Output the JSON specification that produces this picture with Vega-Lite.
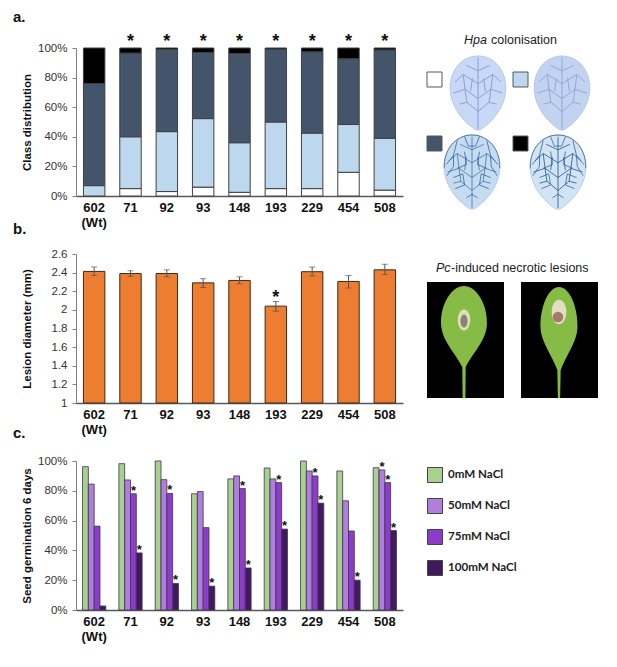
{"$schema":"https://vega.github.io/schema/vega-lite/v6.json","background":"white","padding":{"left":13,"top":10,"right":0,"bottom":20},"bounds":"flush","columns":2,"spacing":{"row":58,"column":7},"resolve":{"scale":{"color":"independent","fill":"independent","stroke":"independent","size":"independent"},"legend":{"color":"independent"}},"config":{"view":{"stroke":null},"font":"Liberation Sans","title":{"font":"Liberation Sans","fontWeight":"bold","fontSize":15,"color":"#111","anchor":"start","frame":"group"},"axisX":{"labelFont":"Liberation Sans","labelFontWeight":"bold","labelFontSize":13,"labelColor":"#111","labelAngle":0,"labelPadding":5,"labelLineHeight":15,"ticks":false,"domainColor":"#595959","domainWidth":1.5,"title":null,"grid":false,"labelExpr":"datum.value=='602'?['602','(Wt)']:datum.value"},"axisY":{"labelFont":"Liberation Sans","labelFontSize":11.5,"labelColor":"#333","titleFont":"Liberation Sans","titleFontWeight":"bold","titleFontSize":11.5,"titleColor":"#111","grid":false,"domainColor":"#808080","tickColor":"#808080","tickSize":4,"labelPadding":5}},"datasets":{"classes":[{"line":"602","cls":"c1","rank":1,"v":0},{"line":"602","cls":"c2","rank":2,"v":0.07},{"line":"602","cls":"c3","rank":3,"v":0.69},{"line":"602","cls":"c4","rank":4,"v":0.24},{"line":"71","cls":"c1","rank":1,"v":0.05},{"line":"71","cls":"c2","rank":2,"v":0.35},{"line":"71","cls":"c3","rank":3,"v":0.566},{"line":"71","cls":"c4","rank":4,"v":0.034},{"line":"92","cls":"c1","rank":1,"v":0.03},{"line":"92","cls":"c2","rank":2,"v":0.405},{"line":"92","cls":"c3","rank":3,"v":0.555},{"line":"92","cls":"c4","rank":4,"v":0.01},{"line":"93","cls":"c1","rank":1,"v":0.06},{"line":"93","cls":"c2","rank":2,"v":0.463},{"line":"93","cls":"c3","rank":3,"v":0.447},{"line":"93","cls":"c4","rank":4,"v":0.03},{"line":"148","cls":"c1","rank":1,"v":0.025},{"line":"148","cls":"c2","rank":2,"v":0.335},{"line":"148","cls":"c3","rank":3,"v":0.603},{"line":"148","cls":"c4","rank":4,"v":0.037},{"line":"193","cls":"c1","rank":1,"v":0.05},{"line":"193","cls":"c2","rank":2,"v":0.45},{"line":"193","cls":"c3","rank":3,"v":0.493},{"line":"193","cls":"c4","rank":4,"v":0.007},{"line":"229","cls":"c1","rank":1,"v":0.05},{"line":"229","cls":"c2","rank":2,"v":0.375},{"line":"229","cls":"c3","rank":3,"v":0.55},{"line":"229","cls":"c4","rank":4,"v":0.025},{"line":"454","cls":"c1","rank":1,"v":0.16},{"line":"454","cls":"c2","rank":2,"v":0.323},{"line":"454","cls":"c3","rank":3,"v":0.445},{"line":"454","cls":"c4","rank":4,"v":0.072},{"line":"508","cls":"c1","rank":1,"v":0.04},{"line":"508","cls":"c2","rank":2,"v":0.35},{"line":"508","cls":"c3","rank":3,"v":0.597},{"line":"508","cls":"c4","rank":4,"v":0.013}],"starsA":[{"line":"71"},{"line":"92"},{"line":"93"},{"line":"148"},{"line":"193"},{"line":"229"},{"line":"454"},{"line":"508"}],"lesion":[{"line":"602","d":2.413,"low":2.37,"high":2.46},{"line":"71","d":2.39,"low":2.36,"high":2.42},{"line":"92","d":2.39,"low":2.355,"high":2.43},{"line":"93","d":2.29,"low":2.24,"high":2.335},{"line":"148","d":2.316,"low":2.28,"high":2.355},{"line":"193","d":2.04,"low":1.985,"high":2.09,"star":2.165},{"line":"229","d":2.41,"low":2.365,"high":2.46},{"line":"454","d":2.305,"low":2.235,"high":2.37},{"line":"508","d":2.43,"low":2.38,"high":2.49}],"germ":[{"line":"602","salt":"0mM NaCl","v":0.962},{"line":"602","salt":"50mM NaCl","v":0.845},{"line":"602","salt":"75mM NaCl","v":0.563},{"line":"602","salt":"100mM NaCl","v":0.027},{"line":"71","salt":"0mM NaCl","v":0.982},{"line":"71","salt":"50mM NaCl","v":0.873},{"line":"71","salt":"75mM NaCl","v":0.78,"star":1},{"line":"71","salt":"100mM NaCl","v":0.383,"star":1},{"line":"92","salt":"0mM NaCl","v":1},{"line":"92","salt":"50mM NaCl","v":0.875},{"line":"92","salt":"75mM NaCl","v":0.782,"star":1},{"line":"92","salt":"100mM NaCl","v":0.178,"star":1},{"line":"93","salt":"0mM NaCl","v":0.78},{"line":"93","salt":"50mM NaCl","v":0.795},{"line":"93","salt":"75mM NaCl","v":0.553},{"line":"93","salt":"100mM NaCl","v":0.16,"star":1},{"line":"148","salt":"0mM NaCl","v":0.88},{"line":"148","salt":"50mM NaCl","v":0.9},{"line":"148","salt":"75mM NaCl","v":0.815,"star":1},{"line":"148","salt":"100mM NaCl","v":0.282,"star":1},{"line":"193","salt":"0mM NaCl","v":0.953},{"line":"193","salt":"50mM NaCl","v":0.88},{"line":"193","salt":"75mM NaCl","v":0.855,"star":1},{"line":"193","salt":"100mM NaCl","v":0.543,"star":1},{"line":"229","salt":"0mM NaCl","v":1},{"line":"229","salt":"50mM NaCl","v":0.933},{"line":"229","salt":"75mM NaCl","v":0.9,"star":1},{"line":"229","salt":"100mM NaCl","v":0.717,"star":1},{"line":"454","salt":"0mM NaCl","v":0.933},{"line":"454","salt":"50mM NaCl","v":0.733},{"line":"454","salt":"75mM NaCl","v":0.53},{"line":"454","salt":"100mM NaCl","v":0.2,"star":1},{"line":"508","salt":"0mM NaCl","v":0.955},{"line":"508","salt":"50mM NaCl","v":0.94,"star":1},{"line":"508","salt":"75mM NaCl","v":0.855,"star":1},{"line":"508","salt":"100mM NaCl","v":0.533,"star":1}]},"concat":[{"width":327,"height":148,"title":{"text":"a.","dx":-63,"offset":8},"layer":[{"data":{"name":"classes"},"mark":{"type":"bar","stroke":"#404040","strokeWidth":1},"encoding":{"x":{"field":"line","type":"nominal","sort":null,"scale":{"domain":["602","71","92","93","148","193","229","454","508"],"paddingInner":0.41,"paddingOuter":0.205}},"y":{"field":"v","type":"quantitative","stack":"zero","title":"Class distribution","scale":{"domain":[0,1],"nice":false},"axis":{"format":".0%","tickCount":6,"labelOverlap":false,"labelBound":false,"titlePadding":5}},"order":{"field":"rank"},"color":{"field":"cls","type":"nominal","legend":null,"scale":{"domain":["c1","c2","c3","c4"],"range":["#ffffff","#bdd7ee","#44546a","#000000"]}}}},{"data":{"name":"starsA"},"mark":{"type":"text","text":"*","font":"Liberation Sans","fontWeight":"bold","fontSize":18,"baseline":"middle","color":"#111","dy":3},"encoding":{"x":{"field":"line","type":"nominal"},"y":{"datum":1.06,"type":"quantitative","axis":{"format":".0%","tickCount":6,"labelOverlap":false,"labelBound":false,"titlePadding":5}}}}]},{"width":207,"height":148,"layer":[{"data":{"values":[{"x":464,"y":40,"t":"Hpa"}]},"mark":{"type":"text","align":"left","baseline":"middle","fontSize":12.5,"fontStyle":"italic","color":"#222"},"encoding":{"x":{"field":"x","type":"quantitative","scale":{"domain":[410,617],"nice":false,"zero":false},"axis":null},"y":{"field":"y","type":"quantitative","scale":{"domain":[196,48],"nice":false,"zero":false},"axis":null},"text":{"field":"t"}}},{"data":{"values":[{"x":491,"y":40,"t":"colonisation"}]},"mark":{"type":"text","align":"left","baseline":"middle","fontSize":12.5,"color":"#222"},"encoding":{"x":{"field":"x","type":"quantitative"},"y":{"field":"y","type":"quantitative"},"text":{"field":"t"}}},{"data":{"values":[{"x":478,"y":93,"f":"l1"},{"x":562,"y":93,"f":"l2"},{"x":472,"y":172,"f":"l3"},{"x":558,"y":172,"f":"l4"}]},"mark":{"type":"point","filled":true,"opacity":1,"size":5476,"stroke":"#a9c0ea","strokeWidth":0.8,"shape":"M0,-1 C0.45,-1 0.77,-0.6 0.75,-0.1 C0.73,0.45 0.3,0.85 0.05,1 L-0.05,1 C-0.3,0.85 -0.73,0.45 -0.75,-0.1 C-0.77,-0.6 -0.45,-1 0,-1 Z"},"encoding":{"x":{"field":"x","type":"quantitative"},"y":{"field":"y","type":"quantitative"},"fill":{"field":"f","type":"nominal","legend":null,"scale":{"domain":["l1","l2","l3","l4"],"range":["#c9d8f4","#c3d3ef","#c5dbf0","#d2e4f4"]}}}},{"data":{"values":[{"x":478,"y":93,"f":"l1"},{"x":562,"y":93,"f":"l2"},{"x":472,"y":172,"f":"l3"},{"x":558,"y":172,"f":"l4"}]},"mark":{"type":"point","filled":false,"opacity":0.85,"size":5476,"strokeWidth":0.9,"shape":"M0,-0.95 L0,0.97 M0,-0.6 L-0.32,-0.75 M0,-0.6 L0.32,-0.75 M0,-0.25 L-0.4,-0.5 L-0.62,-0.3 M0,-0.25 L0.4,-0.5 L0.62,-0.3 M0,0.15 L-0.35,-0.1 L-0.66,0 M0,0.15 L0.35,-0.1 L0.66,0 M0,0.5 L-0.3,0.25 L-0.5,0.3 M0,0.5 L0.3,0.25 L0.5,0.3 M-0.4,-0.5 L-0.35,-0.1 L-0.3,0.25 M0.4,-0.5 L0.35,-0.1 L0.3,0.25 M-0.15,-0.4 L-0.2,-0.05 M0.15,-0.4 L0.2,-0.05"},"encoding":{"x":{"field":"x","type":"quantitative"},"y":{"field":"y","type":"quantitative"},"stroke":{"field":"f","type":"nominal","legend":null,"scale":{"domain":["l1","l2","l3","l4"],"range":["#6f93d8","#7f9dd8","#3f6fa8","#174f86"]}}}},{"data":{"values":[{"x":472,"y":172},{"x":558,"y":172}]},"mark":{"type":"point","filled":false,"opacity":0.75,"size":5476,"strokeWidth":1,"color":"#2a5f98","shape":"M-0.7,-0.2 L-0.5,-0.45 L-0.5,-0.15 L-0.68,0.1 M0.7,-0.2 L0.5,-0.45 L0.52,-0.15 L0.68,0.1 M-0.4,-0.85 L-0.5,-0.45 M0.4,-0.85 L0.5,-0.45 M-0.2,-0.55 L-0.15,-0.2 L-0.4,-0.1 M0.2,-0.55 L0.15,-0.2 L0.4,-0.1 M-0.5,0.15 L-0.25,0.05 L-0.2,0.35 L-0.45,0.45 M0.5,0.15 L0.25,0.05 L0.2,0.35 L0.45,0.45 M-0.2,-0.95 L-0.1,-0.7 L0.1,-0.7 L0.2,-0.95 M-0.15,0.7 L0,0.6 L0.15,0.7 M-0.75,-0.1 C-0.77,-0.6 -0.45,-1 0,-1 C0.45,-1 0.77,-0.6 0.75,-0.1"},"encoding":{"x":{"field":"x","type":"quantitative"},"y":{"field":"y","type":"quantitative"}}},{"data":{"values":[{"x":434.5,"y":79.5,"cls":"c1"},{"x":520.5,"y":79.5,"cls":"c2"},{"x":434.5,"y":143.5,"cls":"c3"},{"x":520.5,"y":143.5,"cls":"c4"}]},"mark":{"type":"point","shape":"square","filled":true,"opacity":1,"size":225,"stroke":"#595959","strokeWidth":1},"encoding":{"x":{"field":"x","type":"quantitative"},"y":{"field":"y","type":"quantitative"},"color":{"field":"cls","type":"nominal","legend":null,"scale":{"domain":["c1","c2","c3","c4"],"range":["#ffffff","#bdd7ee","#44546a","#000000"]}}}}]},{"width":327,"height":149,"title":{"text":"b.","dx":-63,"offset":11},"encoding":{"x":{"field":"line","type":"nominal","sort":null,"scale":{"domain":["602","71","92","93","148","193","229","454","508"],"paddingInner":0.41,"paddingOuter":0.205}}},"layer":[{"data":{"name":"lesion"},"mark":{"type":"bar","color":"#ed7d31","stroke":"#3a2a1f","strokeWidth":1},"encoding":{"y":{"field":"d","type":"quantitative","title":"Lesion diameter (mm)","scale":{"domain":[1,2.6],"nice":false,"zero":false},"axis":{"tickCount":8,"format":".1~f","labelOverlap":false,"labelBound":false,"titlePadding":19}},"y2":{"datum":1}}},{"data":{"name":"lesion"},"mark":{"type":"errorbar","ticks":{"size":6,"color":"#555555"},"rule":{"color":"#555555"}},"encoding":{"y":{"field":"low","type":"quantitative","title":"Lesion diameter (mm)","axis":{"tickCount":8,"format":".1~f","labelOverlap":false,"labelBound":false,"titlePadding":19}},"y2":{"field":"high"}}},{"data":{"name":"lesion"},"transform":[{"filter":"isValid(datum.star)"}],"mark":{"type":"text","text":"*","font":"Liberation Sans","fontWeight":"bold","fontSize":18,"baseline":"middle","color":"#111","dy":3},"encoding":{"y":{"field":"star","type":"quantitative","title":"Lesion diameter (mm)","axis":{"tickCount":8,"format":".1~f","labelOverlap":false,"labelBound":false,"titlePadding":19}}}}]},{"width":207,"height":149,"layer":[{"data":{"values":[{"x":436,"y":268,"t":"Pc"}]},"mark":{"type":"text","align":"left","baseline":"middle","fontSize":12.5,"fontStyle":"italic","color":"#222"},"encoding":{"x":{"field":"x","type":"quantitative","scale":{"domain":[410,617],"nice":false,"zero":false},"axis":null},"y":{"field":"y","type":"quantitative","scale":{"domain":[403,254],"nice":false,"zero":false},"axis":null},"text":{"field":"t"}}},{"data":{"values":[{"x":451,"y":268,"t":"-induced necrotic lesions"}]},"mark":{"type":"text","align":"left","baseline":"middle","fontSize":12.5,"color":"#222"},"encoding":{"x":{"field":"x","type":"quantitative"},"y":{"field":"y","type":"quantitative"},"text":{"field":"t"}}},{"data":{"values":[{"x":427,"x2":504,"y":282,"y2":398},{"x":521,"x2":598,"y":282,"y2":398}]},"mark":{"type":"rect","color":"#000000"},"encoding":{"x":{"field":"x","type":"quantitative"},"x2":{"field":"x2"},"y":{"field":"y","type":"quantitative"},"y2":{"field":"y2"}}},{"data":{"values":[{"x":464,"y":342}]},"mark":{"type":"point","filled":true,"opacity":1,"size":12544,"color":"#86bb45","shape":"M0,-1 C0.22,-1 0.42,-0.68 0.41,-0.32 C0.4,-0.02 0.15,0.2 0.03,0.45 L0.025,1 L-0.025,1 L-0.03,0.45 C-0.15,0.2 -0.4,-0.02 -0.41,-0.32 C-0.42,-0.68 -0.22,-1 0,-1 Z"},"encoding":{"x":{"field":"x","type":"quantitative"},"y":{"field":"y","type":"quantitative"}}},{"data":{"values":[{"x":559,"y":342}]},"mark":{"type":"point","filled":true,"opacity":1,"size":12544,"color":"#86bb45","shape":"M0,-0.98 C0.2,-0.98 0.34,-0.6 0.33,-0.25 C0.32,0 0.12,0.25 0.03,0.5 L0.02,1 L-0.02,1 L-0.03,0.5 C-0.12,0.25 -0.32,0 -0.33,-0.25 C-0.34,-0.6 -0.2,-0.98 0,-0.98 Z"},"encoding":{"x":{"field":"x","type":"quantitative"},"y":{"field":"y","type":"quantitative"}}},{"data":{"values":[{"x":464,"y":320}]},"mark":{"type":"point","filled":true,"opacity":0.95,"color":"#e6e2b8","size":440,"shape":"M0,-1 C0.33,-1 0.6,-0.55 0.6,0 C0.6,0.55 0.33,1 0,1 C-0.33,1 -0.6,0.55 -0.6,0 C-0.6,-0.55 -0.33,-1 0,-1 Z"},"encoding":{"x":{"field":"x","type":"quantitative"},"y":{"field":"y","type":"quantitative"}}},{"data":{"values":[{"x":559,"y":312}]},"mark":{"type":"point","filled":true,"opacity":0.95,"color":"#e6dfc8","size":600,"shape":"M0,-1 C0.33,-1 0.6,-0.55 0.6,0 C0.6,0.55 0.33,1 0,1 C-0.33,1 -0.6,0.55 -0.6,0 C-0.6,-0.55 -0.33,-1 0,-1 Z"},"encoding":{"x":{"field":"x","type":"quantitative"},"y":{"field":"y","type":"quantitative"}}},{"data":{"values":[{"x":464,"y":321}]},"mark":{"type":"point","filled":true,"opacity":1,"color":"#85867a","size":170,"shape":"M0,-1 C0.3,-1 0.55,-0.55 0.55,0 C0.55,0.55 0.3,1 0,1 C-0.3,1 -0.55,0.55 -0.55,0 C-0.55,-0.55 -0.3,-1 0,-1 Z"},"encoding":{"x":{"field":"x","type":"quantitative"},"y":{"field":"y","type":"quantitative"}}},{"data":{"values":[{"x":558,"y":317}]},"mark":{"type":"point","shape":"circle","filled":true,"opacity":1,"color":"#a8796a","size":110},"encoding":{"x":{"field":"x","type":"quantitative"},"y":{"field":"y","type":"quantitative"}}}]},{"width":327,"height":149,"title":{"text":"c.","dx":-63,"offset":14},"data":{"name":"germ"},"encoding":{"x":{"field":"line","type":"nominal","sort":null,"scale":{"domain":["602","71","92","93","148","193","229","454","508"],"paddingInner":0.36,"paddingOuter":0.18}},"xOffset":{"field":"salt","type":"nominal","scale":{"domain":["0mM NaCl","50mM NaCl","75mM NaCl","100mM NaCl"]}}},"layer":[{"mark":{"type":"bar","strokeWidth":0.8,"stroke":"#3d3550"},"encoding":{"y":{"field":"v","type":"quantitative","title":"Seed germination 6 days","scale":{"domain":[0,1],"nice":false},"axis":{"format":".0%","tickCount":6,"labelOverlap":false,"labelBound":false,"titlePadding":5}},"color":{"field":"salt","type":"nominal","title":null,"scale":{"domain":["0mM NaCl","50mM NaCl","75mM NaCl","100mM NaCl"],"range":["#a9d18e","#b07fdb","#8c3cc8","#42185f"]},"legend":{"orient":"none","legendX":351,"legendY":6,"symbolType":"square","symbolSize":225,"symbolStrokeColor":"#444","symbolStrokeWidth":1,"symbolOpacity":1,"rowPadding":11,"labelFont":"Lato","labelFontWeight":"bold","labelFontSize":11.6,"labelColor":"#222","labelOffset":5,"padding":0}}}},{"transform":[{"filter":"datum.star===1"}],"mark":{"type":"text","text":"*","font":"Liberation Sans","fontWeight":"bold","fontSize":13,"baseline":"middle","color":"#111","dy":-3},"encoding":{"y":{"field":"v","type":"quantitative","title":"Seed germination 6 days","axis":{"format":".0%","tickCount":6,"labelOverlap":false,"labelBound":false,"titlePadding":5}}}}]}]}
